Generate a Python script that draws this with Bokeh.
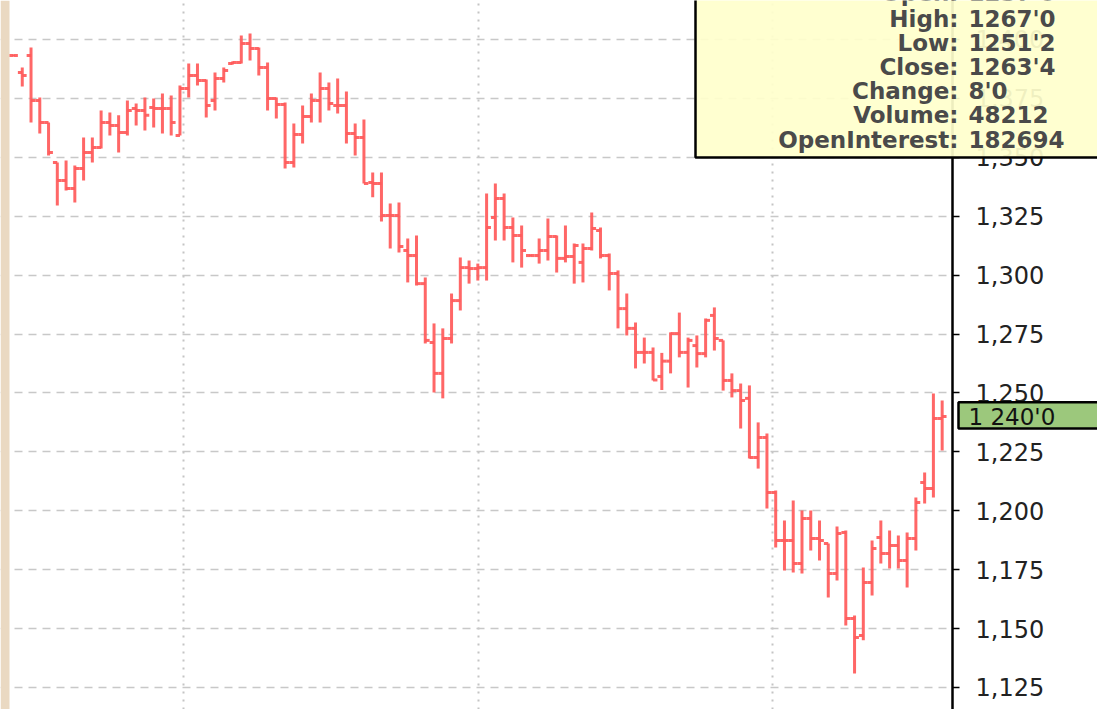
from bokeh.plotting import figure
from bokeh.models import (ColumnDataSource, Range1d, FixedTicker, NumeralTickFormatter,
                          BoxAnnotation, Label, SingleIntervalTicker, GridBox)
from bokeh.embed import file_html
from bokeh.resources import INLINE

# ---------------- data (daily OHLC, price in points) ----------------
highs = [
    1393.5,
    1388.1, 1396.6, 1375.4, 1364.8, 1347.8, 1348.6, 1346.5, 1358.4, 1358.4, 1369.9,
    1369.0, 1367.8, 1374.1, 1372.8, 1375.4, 1375.0, 1377.1, 1376.2, 1380.5, 1389.8,
    1389.8, 1383.0, 1386.0, 1388.1,
    1390.7,
    1401.7, 1402.5, 1396.6, 1390.2, 1375.4, 1373.3, 1364.4, 1372.0, 1377.1, 1386.0,
    1381.8, 1383.4, 1377.9, 1364.4, 1366.0, 1343.6, 1343.6, 1330.4, 1330.8, 1315.5,
    1316.8, 1299.0, 1279.5, 1277.4, 1292.2, 1307.5, 1306.2, 1304.9, 1334.6, 1338.9,
    1334.6, 1324.5, 1321.1, 1308.8, 1315.5, 1324.0, 1316.8, 1321.1, 1313.4, 1313.4,
    1326.6, 1320.2, 1309.2, 1302.0, 1292.2, 1279.9, 1273.5, 1269.3, 1267.0, 1275.7,
    1284.1, 1273.5, 1274.4, 1281.6, 1286.3, 1272.3, 1258.3, 1254.0, 1253.2, 1237.5,
    1232.8, 1208.6, 1195.9, 1204.4, 1200.1, 1200.1, 1195.9, 1186.1, 1193.3, 1191.6,
    1155.6, 1175.9, 1187.4, 1195.9, 1191.6, 1189.5, 1190.8, 1205.6, 1216.2, 1249.8,
    1246.8,
]
lows = [
    1393.0,
    1380.1, 1364.8, 1360.1, 1350.8, 1329.6, 1335.9, 1330.8, 1340.2, 1347.8, 1353.7,
    1359.3, 1352.0, 1359.3, 1363.5, 1361.4, 1362.7, 1360.1, 1359.3, 1359.3, 1375.4,
    1380.5, 1366.9, 1369.9, 1381.8,
    1389.4,
    1389.8, 1391.1, 1384.7, 1369.9, 1366.5, 1345.3, 1345.7, 1355.9, 1364.8, 1364.8,
    1369.9, 1368.6, 1355.9, 1350.8, 1338.9, 1333.0, 1322.8, 1311.3, 1309.6, 1296.9,
    1295.6, 1271.0, 1250.2, 1247.7, 1271.0, 1285.0, 1296.4, 1297.7, 1297.7, 1314.7,
    1314.7, 1305.4, 1303.2, 1307.9, 1304.9, 1306.2, 1301.1, 1305.4, 1296.4, 1296.9,
    1310.5, 1307.1, 1293.5, 1277.4, 1274.4, 1260.4, 1262.5, 1255.3, 1251.25, 1258.3,
    1265.1, 1252.3, 1260.8, 1265.1, 1268.0, 1251.0, 1248.1, 1234.9, 1222.2, 1217.9,
    1201.0, 1184.4, 1174.7, 1173.8, 1173.4, 1183.1, 1178.9, 1163.2, 1170.4, 1151.3,
    1130.9, 1145.0, 1164.0, 1177.6, 1175.5, 1175.5, 1167.4, 1183.1, 1203.1, 1205.6,
    1225.6,
]
opens = [
    1393.25,
    1386.0, 1393.2, 1374.1, 1364.8, 1347.8, 1340.2, 1336.8, 1345.3, 1352.0, 1354.2,
    1364.8, 1363.5, 1360.5, 1370.7, 1369.9, 1371.1, 1370.7, 1370.7, 1359.3, 1379.2,
    1384.7, 1382.6, 1374.1, 1383.4,
    1389.8,
    1390.2, 1398.3, 1396.2, 1388.1, 1375.0, 1372.4, 1347.8, 1359.7, 1367.3, 1374.1,
    1379.2, 1372.0, 1372.0, 1360.1, 1358.4, 1339.3, 1338.9, 1325.3, 1325.3, 1310.5,
    1308.3, 1296.4, 1271.4, 1258.3, 1273.1, 1289.2, 1303.2, 1302.8, 1303.2, 1324.5,
    1332.5, 1320.2, 1316.8, 1308.3, 1308.3, 1310.5, 1316.4, 1307.1, 1307.9, 1305.4,
    1311.3, 1318.9, 1308.3, 1300.7, 1285.8, 1277.4, 1267.2, 1267.2, 1257.0, 1263.5,
    1275.2, 1267.2, 1270.1, 1266.7, 1282.9, 1272.3, 1255.3, 1251.0, 1247.7, 1222.6,
    1231.1, 1207.8, 1187.4, 1187.4, 1177.6, 1196.7, 1188.2, 1186.1, 1173.4, 1190.8,
    1154.3, 1147.1, 1169.6, 1188.7, 1181.9, 1185.3, 1178.9, 1188.2, 1212.0, 1209.5,
    1239.2,
]
closes = [
    1393.25,
    1384.7, 1374.1, 1364.8, 1352.0, 1340.2, 1336.8, 1345.3, 1352.0, 1354.2, 1364.8,
    1363.5, 1360.5, 1369.9, 1369.9, 1367.8, 1370.7, 1370.7, 1364.8, 1379.2, 1384.7,
    1382.6, 1372.0, 1383.4, 1386.8,
    1390.2,
    1398.3, 1396.2, 1388.1, 1375.0, 1372.4, 1347.8, 1359.7, 1367.3, 1374.1, 1379.2,
    1372.8, 1372.0, 1360.1, 1358.4, 1338.9, 1338.9, 1325.3, 1325.3, 1312.2, 1308.3,
    1296.4, 1272.3, 1258.3, 1273.1, 1289.2, 1303.2, 1302.8, 1303.2, 1320.2, 1332.5,
    1320.2, 1316.8, 1310.5, 1308.3, 1310.5, 1316.4, 1307.1, 1307.9, 1312.6, 1311.3,
    1319.8, 1308.3, 1300.7, 1285.8, 1277.4, 1267.2, 1267.2, 1255.5, 1263.5, 1275.2,
    1267.2, 1272.3, 1266.7, 1280.8, 1273.1, 1255.3, 1251.0, 1246.8, 1222.6, 1231.1,
    1207.8, 1187.4, 1187.4, 1177.6, 1196.7, 1188.2, 1187.4, 1173.4, 1190.4, 1154.3,
    1146.2, 1169.6, 1184.0, 1181.9, 1185.3, 1178.9, 1188.2, 1203.5, 1209.5, 1239.2,
    1240.0,
]
month_breaks = [19.4, 53.1, 86.6]      # bar-index positions of the period separators
hover_index = 74                         # bar described in the info box
hover_volume = "48212"
hover_open_interest = "182694"


def eighths(v):
    whole = int(v)
    return f"{whole}'{int(round((v - whole) * 8))}"


W, H = 1097, 709
n = len(highs)
idx = list(range(n))
src = ColumnDataSource(dict(
    x=idx,
    xl=[i - 0.5 for i in idx],
    xr=[i + 0.5 for i in idx],
    high=highs, low=lows, open=opens, close=closes,
))

yr = Range1d(1115.66, 1416.55)
p = figure(width=W, height=H,
           x_range=Range1d(-1.484, 107.18), y_range=yr,
           output_backend="svg", toolbar_location=None,
           x_axis_location=None, y_axis_location="right",
           min_border_left=0, min_border_top=0, min_border_bottom=0, min_border_right=145)
p.outline_line_color = None
p.background_fill_color = "white"
p.border_fill_color = "white"

bar_color = "#ff5a5a"
for x0, y0, x1, y1 in (("x", "high", "x", "low"), ("xl", "open", "x", "open"), ("x", "close", "xr", "close")):
    p.segment(x0, y0, x1, y1, source=src, line_color=bar_color, line_width=3, line_alpha=0.92)

# right price axis
yax = p.yaxis[0]
yax.ticker = SingleIntervalTicker(interval=25, num_minor_ticks=0)
yax.formatter = NumeralTickFormatter(format="0,0")
yax.axis_line_color = "black"
yax.axis_line_width = 2.5
yax.major_tick_line_color = "black"
yax.major_tick_line_width = 1.5
yax.major_tick_out = 7
yax.major_tick_in = 0
yax.minor_tick_line_color = None
yax.major_label_text_font = "DejaVu Sans"
yax.major_label_text_font_size = "24px"
yax.major_label_text_color = "#222222"
yax.major_label_standoff = 16

p.ygrid.grid_line_color = "#c8c8c8"
p.ygrid.grid_line_dash = "8 6"
p.ygrid.grid_line_width = 1.5
p.xgrid.ticker = FixedTicker(ticks=month_breaks)
p.xgrid.grid_line_color = "#c4c4c4"
p.xgrid.grid_line_dash = "2 6"
p.xgrid.grid_line_width = 2

# ---------------- transparent overlay: info box, price marker, window edge ----------------
q = figure(width=W, height=H, x_range=Range1d(0, W), y_range=yr,
           output_backend="svg", toolbar_location=None,
           x_axis_location=None, y_axis_location=None, min_border=0)
q.min_border_left = q.min_border_right = q.min_border_top = q.min_border_bottom = 0
q.background_fill_color = None
q.border_fill_color = None
q.outline_line_color = None
q.grid.visible = False

# keep each plot's frame independent inside the overlay grid
p.frame_align = False
q.frame_align = False

q.add_layout(BoxAnnotation(left=0, right=9, top=0, bottom=H,
                           left_units="canvas", right_units="canvas",
                           top_units="canvas", bottom_units="canvas",
                           fill_color="#ead9c2", fill_alpha=1.0, line_color=None))

q.add_layout(BoxAnnotation(left=695, right=W + 10, top=-10, bottom=157,
                           left_units="canvas", right_units="canvas",
                           top_units="canvas", bottom_units="canvas",
                           fill_color="#ffffcc", fill_alpha=0.93,
                           line_color="black", line_alpha=1.0, line_dash="solid",
                           line_width=2.5))
h = hover_index
rows = [
    ("Open:", eighths(opens[h])),
    ("High:", eighths(highs[h])),
    ("Low:", eighths(lows[h])),
    ("Close:", eighths(closes[h])),
    ("Change:", eighths(closes[h] - closes[h - 1])),
    ("Volume:", hover_volume),
    ("OpenInterest:", hover_open_interest),
]
row_y = [-8, 18, 42, 66, 90, 114, 139]
for (lab, val), yy in zip(rows, row_y):
    for txt, xx, al in ((lab, 958, "right"), (val, 968, "left")):
        q.add_layout(Label(x=xx, y=yy, x_units="canvas", y_units="canvas", text=txt,
                           text_align=al, text_baseline="middle",
                           text_font="DejaVu Sans", text_font_style="bold",
                           text_font_size="23px", text_color="#4a4a4a"))

last = closes[-1]
q.add_layout(BoxAnnotation(left=958, right=W + 10, left_units="canvas", right_units="canvas",
                           top=last + 6, bottom=last - 5.1,
                           fill_color="#9cc87c", fill_alpha=1.0,
                           line_color="black", line_alpha=1.0, line_dash="solid",
                           line_width=2.5))
last_txt = f"{int(last) // 1000} {int(last) % 1000:03d}'{int(round((last % 1) * 8))}"
q.add_layout(Label(x=968, y=last, x_units="canvas", text=last_txt,
                   text_align="left", text_baseline="middle",
                   text_font="DejaVu Sans", text_font_size="23px", text_color="#111111"))

page = GridBox(children=[(p, 0, 0), (q, 0, 0)])
open("out.html", "w").write(file_html(page, INLINE))
